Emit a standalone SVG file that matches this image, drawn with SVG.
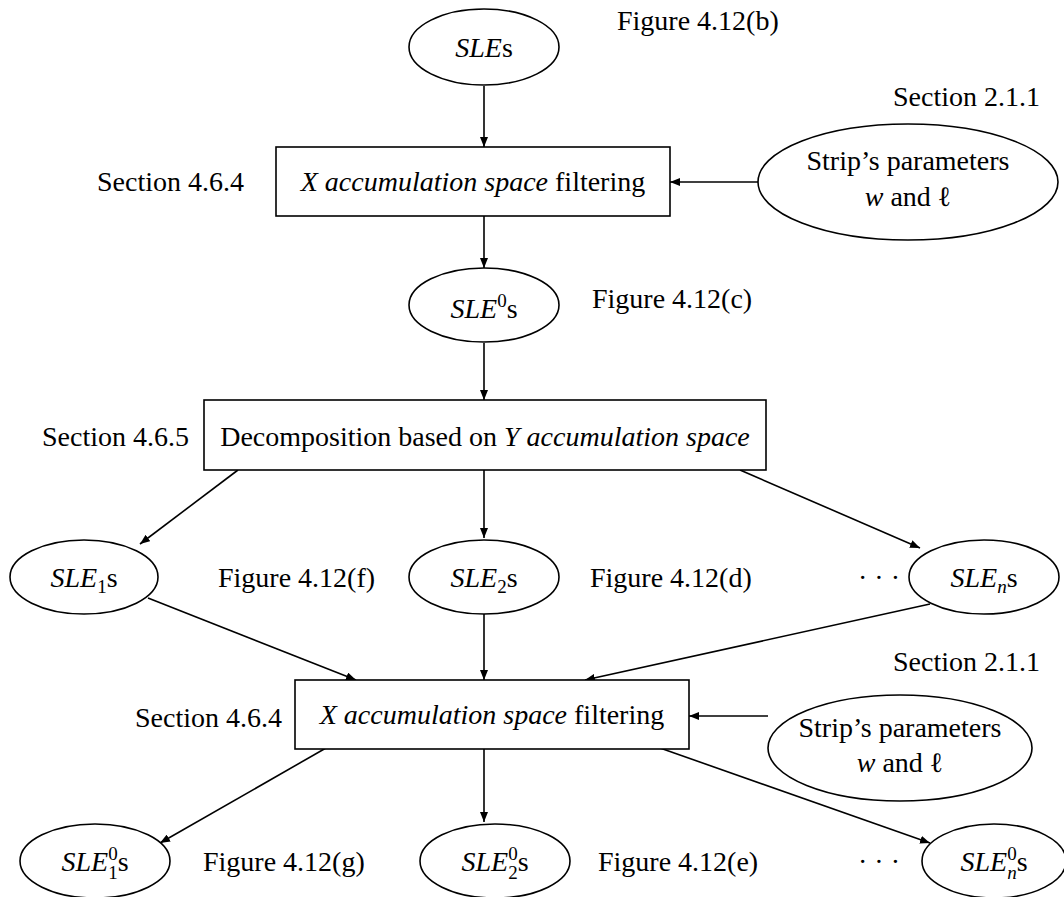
<svg xmlns="http://www.w3.org/2000/svg" width="1064" height="897" viewBox="0 0 1064 897">
<style>
text{font-family:"Liberation Serif","Times New Roman",serif;font-size:28px;fill:#000}
.c{text-anchor:middle}
.e{text-anchor:end}
.i{font-style:italic}
.sm{font-size:19px}
.node{fill:#fff;stroke:#000;stroke-width:1.6}
.edge{fill:none;stroke:#000;stroke-width:1.6;marker-end:url(#ah)}
</style>
<defs>
<marker id="ah" viewBox="0 0 10 8" refX="10" refY="4" markerWidth="10" markerHeight="8" markerUnits="userSpaceOnUse" orient="auto">
<path d="M0,0 L10,4 L0,8 z" fill="#000"/>
</marker>
</defs>
<rect width="1064" height="897" fill="#fff"/>
<g id="connectors">
<line class="edge" x1="484" y1="86" x2="484" y2="147"/>
<line class="edge" x1="758" y1="182" x2="670" y2="182"/>
<line class="edge" x1="484" y1="216" x2="484" y2="268"/>
<line class="edge" x1="484" y1="343" x2="484" y2="400"/>
<line class="edge" x1="238" y1="470" x2="140" y2="544"/>
<line class="edge" x1="484" y1="470" x2="484" y2="538"/>
<line class="edge" x1="740" y1="470" x2="920" y2="548"/>
<line class="edge" x1="148" y1="598" x2="356" y2="680"/>
<line class="edge" x1="484" y1="614" x2="484" y2="680"/>
<line class="edge" x1="930" y1="604" x2="585" y2="680"/>
<line class="edge" x1="768" y1="716" x2="689" y2="716"/>
<line class="edge" x1="326" y1="748" x2="160" y2="843"/>
<line class="edge" x1="484" y1="748" x2="484" y2="822"/>
<line class="edge" x1="660" y1="748" x2="930" y2="843"/>
</g>
<g id="n_sles">
<ellipse class="node" cx="484" cy="47" rx="75" ry="38"/>
<text class="c" x="484" y="57"><tspan class="i">SLE</tspan>s</text>
<text x="617" y="30">Figure 4.12(b)</text>
</g>
<g id="n_filter1">
<rect class="node" x="276" y="147" width="394" height="69"/>
<text class="c" x="473" y="191"><tspan class="i">X accumulation space</tspan> filtering</text>
<text x="97" y="191">Section 4.6.4</text>
</g>
<g id="n_strip1">
<ellipse class="node" cx="908" cy="182" rx="150" ry="58"/>
<text class="c" x="908" y="170">Strip’s parameters</text>
<text class="c" x="908" y="206"><tspan class="i">w</tspan> and ℓ</text>
<text class="e" x="1040" y="106">Section 2.1.1</text>
</g>
<g id="n_sle0">
<ellipse class="node" cx="484" cy="305" rx="75" ry="37"/>
<text class="c" x="484" y="318"><tspan class="i">SLE</tspan><tspan class="sm" dy="-11">0</tspan><tspan dy="11">s</tspan></text>
<text x="592" y="308">Figure 4.12(c)</text>
</g>
<g id="n_decomp">
<rect class="node" x="204" y="400" width="562" height="70"/>
<text class="c" x="485" y="446">Decomposition based on <tspan class="i">Y accumulation space</tspan></text>
<text x="42" y="446">Section 4.6.5</text>
</g>
<g id="n_sle1">
<ellipse class="node" cx="84" cy="577" rx="74" ry="37"/>
<text class="c" x="84" y="587"><tspan class="i">SLE</tspan><tspan class="sm" dy="6">1</tspan><tspan dy="-6">s</tspan></text>
<text x="218" y="587">Figure 4.12(f)</text>
</g>
<g id="n_sle2">
<ellipse class="node" cx="484" cy="577" rx="75" ry="37"/>
<text class="c" x="484" y="587"><tspan class="i">SLE</tspan><tspan class="sm" dy="6">2</tspan><tspan dy="-6">s</tspan></text>
<text x="590" y="587">Figure 4.12(d)</text>
</g>
<g id="n_slen">
<ellipse class="node" cx="984" cy="577" rx="75" ry="37"/>
<text class="c" x="984" y="587"><tspan class="i">SLE</tspan><tspan class="sm i" dy="6">n</tspan><tspan dy="-6">s</tspan></text>
<text x="858" y="587">· · ·</text>
</g>
<g id="n_filter2">
<rect class="node" x="295" y="680" width="394" height="69"/>
<text class="c" x="492" y="724"><tspan class="i">X accumulation space</tspan> filtering</text>
<text x="135" y="727">Section 4.6.4</text>
</g>
<g id="n_strip2">
<ellipse class="node" cx="900" cy="748" rx="132" ry="53"/>
<text class="c" x="900" y="737">Strip’s parameters</text>
<text class="c" x="900" y="772"><tspan class="i">w</tspan> and ℓ</text>
<text class="e" x="1040" y="671">Section 2.1.1</text>
</g>
<g id="n_sle01">
<ellipse class="node" cx="95" cy="861" rx="75" ry="37"/>
<text class="c" x="95" y="871"><tspan class="i">SLE</tspan><tspan class="sm" dy="-11">0</tspan><tspan class="sm" dx="-9.5" dy="19">1</tspan><tspan dy="-8">s</tspan></text>
<text x="203" y="871">Figure 4.12(g)</text>
</g>
<g id="n_sle02">
<ellipse class="node" cx="495" cy="861" rx="75" ry="37"/>
<text class="c" x="495" y="871"><tspan class="i">SLE</tspan><tspan class="sm" dy="-11">0</tspan><tspan class="sm" dx="-9.5" dy="19">2</tspan><tspan dy="-8">s</tspan></text>
<text x="598" y="871">Figure 4.12(e)</text>
</g>
<g id="n_sle0n">
<ellipse class="node" cx="994" cy="861" rx="72" ry="37"/>
<text class="c" x="994" y="871"><tspan class="i">SLE</tspan><tspan class="sm" dy="-11">0</tspan><tspan class="sm i" dx="-9.5" dy="19">n</tspan><tspan dy="-8">s</tspan></text>
<text x="858" y="871">· · ·</text>
</g>
</svg>
